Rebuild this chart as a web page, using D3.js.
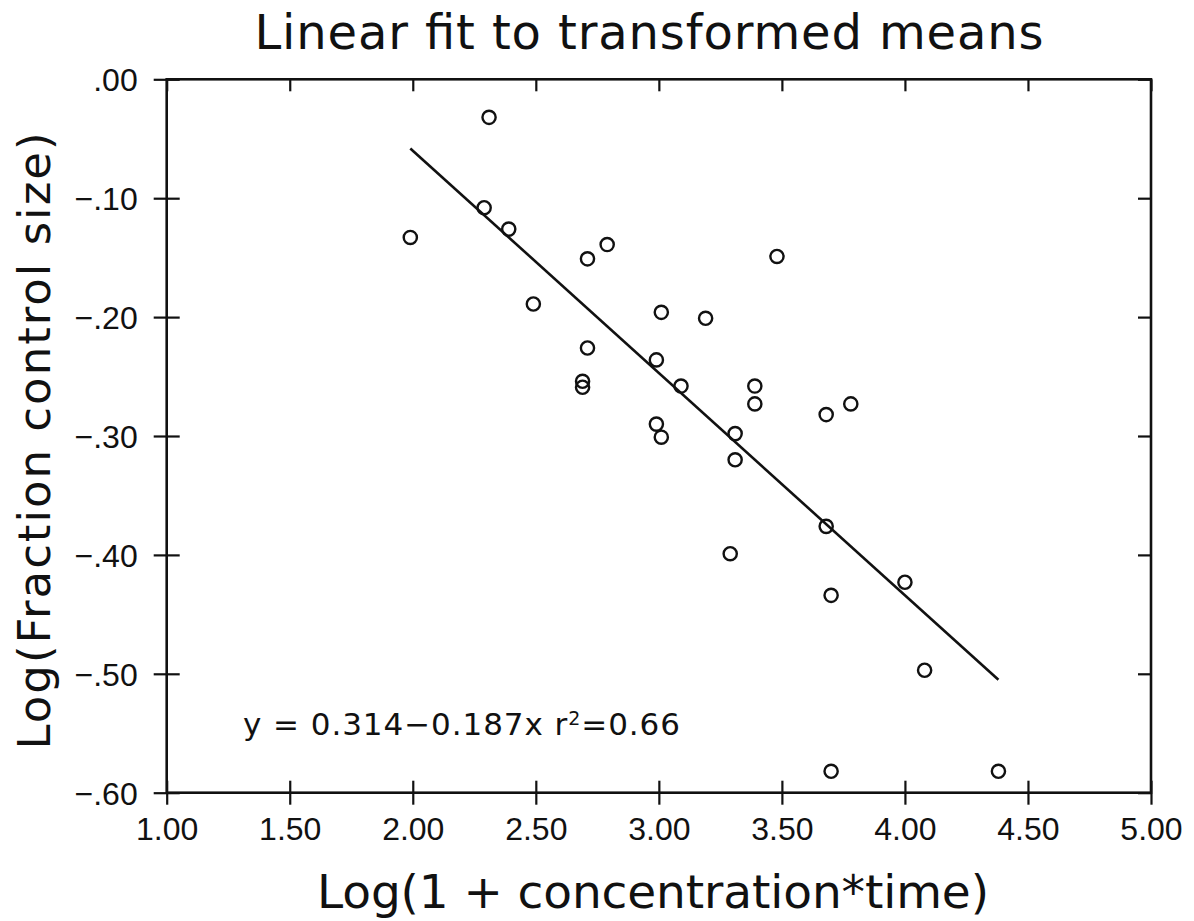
<!DOCTYPE html>
<html>
<head>
<meta charset="utf-8">
<script src="https://cdn.jsdelivr.net/npm/d3@7"></script>
<style>
  html, body { margin: 0; padding: 0; background: #fff; }
  svg text { font-family: "DejaVu Sans", sans-serif; fill: #111; }
</style>
</head>
<body>
<svg id="chart" width="1194" height="921"></svg>
<script>
// Transformed treatment means: x = Log(1 + concentration*time), y = Log(fraction of control size)
const xValues = [2.31, 2.29, 1.99, 2.39, 2.79, 2.71, 3.48, 2.49, 3.01, 3.19,
                 2.71, 2.99, 2.69, 2.69, 3.09, 3.39, 3.39, 3.68, 3.78, 2.99,
                 3.01, 3.31, 3.31, 3.29, 3.68, 4.00, 3.70, 4.08, 3.70, 4.38];
const yValues = [-0.032, -0.108, -0.133, -0.126, -0.139, -0.151, -0.149, -0.189, -0.196, -0.201,
                 -0.226, -0.236, -0.254, -0.259, -0.258, -0.258, -0.273, -0.282, -0.273, -0.290,
                 -0.301, -0.298, -0.320, -0.399, -0.376, -0.423, -0.434, -0.497, -0.582, -0.582];

// Least-squares line reported on the chart
const fitIntercept = 0.314;
const fitSlope = -0.187;
const rSquared = 0.66;

const xTicks = [1.0, 1.5, 2.0, 2.5, 3.0, 3.5, 4.0, 4.5, 5.0];
const xTickLabels = ["1.00", "1.50", "2.00", "2.50", "3.00", "3.50", "4.00", "4.50", "5.00"];
const yTicks = [0, -0.1, -0.2, -0.3, -0.4, -0.5, -0.6];
const yTickLabels = [".00", "\u2212.10", "\u2212.20", "\u2212.30", "\u2212.40", "\u2212.50", "\u2212.60"];

const titleText = "Linear fit to transformed means";
const xTitleText = "Log(1 + concentration*time)";
const yTitleText = "Log(Fraction control size)";

const svg = d3.select("#chart");
const W = 1194, H = 921;
const margin = { left: 166.7, right: W - 1151, top: 79.3, bottom: H - 792.7 };

const x = d3.scaleLinear().domain([1, 5]).range([margin.left, W - margin.right]);
const y = d3.scaleLinear().domain([-0.6, 0]).range([H - margin.bottom, margin.top]);

const tickFont = 32;
const tickFamily = '"Liberation Sans", Arial, sans-serif';

// Bottom axis: ticks cross the axis line
const gx = svg.append("g")
  .attr("transform", `translate(0,${y(-0.6)})`)
  .call(d3.axisBottom(x).tickValues(xTicks).tickFormat((d, i) => xTickLabels[i]).tickSize(12));
gx.select(".domain").remove();
gx.selectAll(".tick line").attr("y1", -12).attr("y2", 12).attr("stroke", "#111").attr("stroke-width", 2.2);
gx.selectAll(".tick text")
  .attr("y", 47).attr("dy", 0)
  .attr("font-size", tickFont)
  .style("font-family", tickFamily).attr("fill", "#111");

// Left axis: ticks cross the axis line
const gy = svg.append("g")
  .attr("transform", `translate(${x(1)},0)`)
  .call(d3.axisLeft(y).tickValues(yTicks).tickFormat((d, i) => yTickLabels[i]).tickSize(13));
gy.select(".domain").remove();
gy.selectAll(".tick line").attr("x1", -13).attr("x2", 13).attr("stroke", "#111").attr("stroke-width", 2.2);
gy.selectAll(".tick text")
  .attr("x", -29).attr("dy", "0.36em")
  .attr("font-size", tickFont)
  .style("font-family", tickFamily).attr("fill", "#111");

// Top and right axes: inward ticks, no labels
const gt = svg.append("g")
  .attr("transform", `translate(0,${y(0)})`)
  .call(d3.axisTop(x).tickValues(xTicks).tickFormat("").tickSize(-12));
gt.select(".domain").remove();
gt.selectAll(".tick line").attr("stroke", "#111").attr("stroke-width", 2.2);

const gr = svg.append("g")
  .attr("transform", `translate(${x(5)},0)`)
  .call(d3.axisRight(y).tickValues(yTicks).tickFormat("").tickSize(-13));
gr.select(".domain").remove();
gr.selectAll(".tick line").attr("stroke", "#111").attr("stroke-width", 2.2);

// Plot frame
svg.append("rect")
  .attr("x", x(1)).attr("y", y(0))
  .attr("width", x(5) - x(1)).attr("height", y(-0.6) - y(0))
  .attr("fill", "none").attr("stroke", "#111").attr("stroke-width", 2.6);

// Fitted line across the observed x range
const xExt = d3.extent(xValues);
const fitPts = xExt.map(v => [v, fitIntercept + fitSlope * v]);
svg.append("path")
  .attr("d", d3.line().x(d => x(d[0])).y(d => y(d[1]))(fitPts))
  .attr("fill", "none").attr("stroke", "#111").attr("stroke-width", 2.6);

// Observed means
svg.append("g").selectAll("circle")
  .data(xValues.map((v, i) => [v, yValues[i]]))
  .join("circle")
  .attr("cx", d => x(d[0])).attr("cy", d => y(d[1]))
  .attr("r", 6.6)
  .attr("fill", "none").attr("stroke", "#111").attr("stroke-width", 2.4);

// Fit equation
const eq = svg.append("text")
  .attr("x", 243).attr("y", 735)
  .attr("font-size", 31)
  .attr("textLength", 437).attr("lengthAdjust", "spacing");
eq.append("tspan").text(`y = ${fitIntercept.toFixed(3)}\u2212${Math.abs(fitSlope).toFixed(3)}x r`);
eq.append("tspan").attr("dy", -10).attr("font-size", 19).text("2");
eq.append("tspan").attr("dy", 10).text(`=${rSquared.toFixed(2)}`);

// Titles
svg.append("text")
  .attr("x", 649).attr("y", 49)
  .attr("text-anchor", "middle")
  .attr("font-size", 48)
  .attr("textLength", 789).attr("lengthAdjust", "spacing")
  .text(titleText);

svg.append("text")
  .attr("x", 653).attr("y", 908)
  .attr("text-anchor", "middle")
  .attr("font-size", 47)
  .attr("textLength", 672).attr("lengthAdjust", "spacing")
  .text(xTitleText);

svg.append("text")
  .attr("transform", "translate(50,441) rotate(-90)")
  .attr("text-anchor", "middle")
  .attr("font-size", 45)
  .attr("textLength", 617).attr("lengthAdjust", "spacing")
  .text(yTitleText);
</script>
</body>
</html>
